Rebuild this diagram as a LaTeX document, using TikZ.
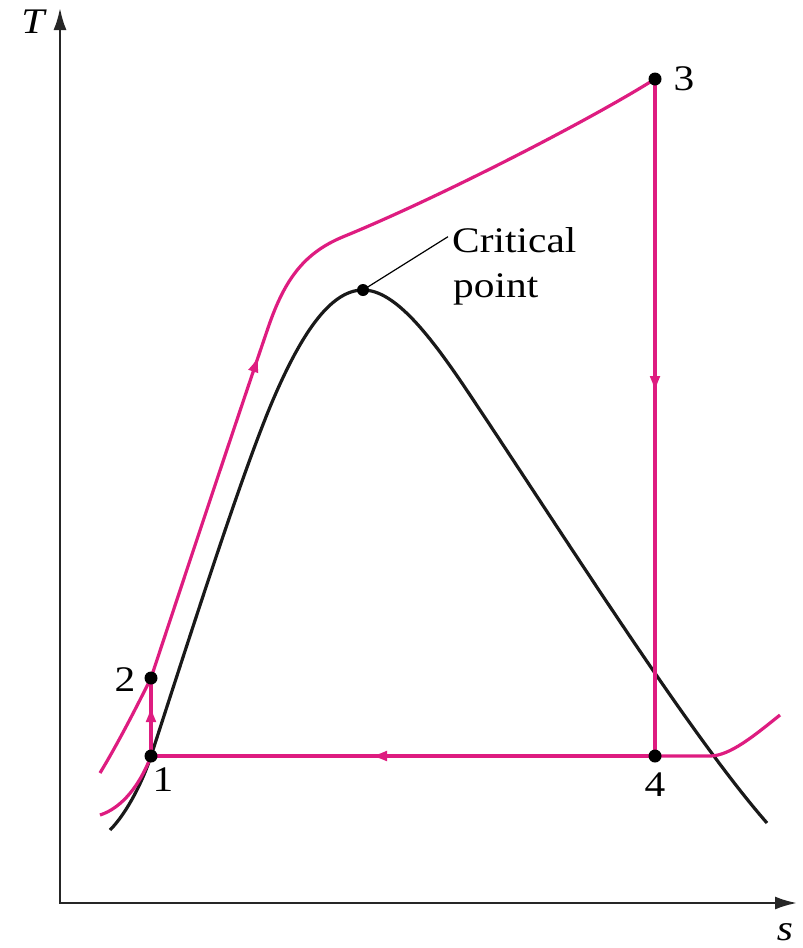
\documentclass[tikz,border=0pt]{standalone}
\usepackage{fontspec}
\setmainfont{Liberation Serif}
\usetikzlibrary{arrows.meta,decorations.markings}
\definecolor{cyc}{RGB}{222,28,128}
\newcommand{\wtxt}[1]{\scalebox{1.15}[1]{#1}}
\begin{document}
\begin{tikzpicture}[x=1pt,y=-1pt,
  dot/.style={circle,fill=black,inner sep=0pt,minimum size=13pt},
  cyclepath/.style={color=cyc,line width=3.2pt},
  dome/.style={draw=black!90,line width=3.2pt},
  axis/.style={draw=black!85,line width=2.4pt},
  lbl/.style={font=\fontsize{36}{40}\selectfont,inner sep=0pt},
  midarrow/.style={postaction={decorate},decoration={markings,
    mark=at position #1 with {\arrow{Latex[length=17pt,width=11pt]}}}}]
\useasboundingbox (0,0) rectangle (803,948);
% axes
\coordinate (O) at (60,903);
\coordinate (Ttip) at (60,8);
\coordinate (Stip) at (797,903);
\draw[axis,{Latex[length=22pt,width=13pt]}-{Latex[length=22pt,width=13pt]}] (Ttip) -- (O) -- (Stip);
\node[lbl,font=\fontsize{36}{40}\selectfont\itshape] (Tl) at (33,22) {\wtxt{T}};
\node[lbl,font=\fontsize{36}{40}\selectfont\itshape] (sl) at (785,932) {\wtxt{s}};
% state points
\coordinate (c1) at (151,756);
\coordinate (c2) at (151,678);
\coordinate (c3) at (655,79);
\coordinate (c4) at (655,756);
\coordinate (cc) at (363,290);
\coordinate (xr) at (710,756);
% saturation dome
\draw[dome] (110,830) .. controls (128,812) and (144,778) .. (c1)
  .. controls (195,620) and (240,480) .. (270,407)
  .. controls (300,335) and (330,290) .. (cc)
  .. controls (395,290) and (430,335) .. (470,395)
  .. controls (570,545) and (690,735) .. (767,823);
% cycle
\draw[cyclepath,midarrow=448pt] (100,773) .. controls (120,740) and (140,700) .. (c2)
  .. controls (190,560) and (240,410) .. (268,328)
  .. controls (285,278) and (305,252) .. (345,236)
  .. controls (440,197) and (590,120) .. (c3);
\draw[cyclepath] (100,815) .. controls (122,808) and (140,785) .. (c1);
\draw[cyclepath,midarrow=51pt] (c1) -- (c2);
\draw[cyclepath,midarrow=314pt] (c3) -- (c4);
\draw[cyclepath,midarrow=285pt] (c4) -- (c1);
\draw[cyclepath] (c4) -- (xr) .. controls (730,756) and (755,735) .. (780,715);
% dots
\node[dot] (p1) at (c1) {};
\node[dot] (p2) at (c2) {};
\node[dot] (p3) at (c3) {};
\node[dot] (p4) at (c4) {};
\node[dot,minimum size=12pt] (cp) at (cc) {};
% labels
\node[lbl] (l1) at (163,780) {\wtxt{1}};
\node[lbl] (l2) at (125,680) {\wtxt{2}};
\node[lbl] (l3) at (684,79) {\wtxt{3}};
\node[lbl] (l4) at (655,785) {\wtxt{4}};
\node[lbl,anchor=base west] (crit1) at (452,252) {\wtxt{Critical}};
\node[lbl,anchor=base west] (crit2) at (453,297) {\wtxt{point}};
\draw[black,line width=1.2pt] (cp.center) -- ([xshift=-4pt,yshift=3pt]crit1.west);
\end{tikzpicture}
\end{document}
